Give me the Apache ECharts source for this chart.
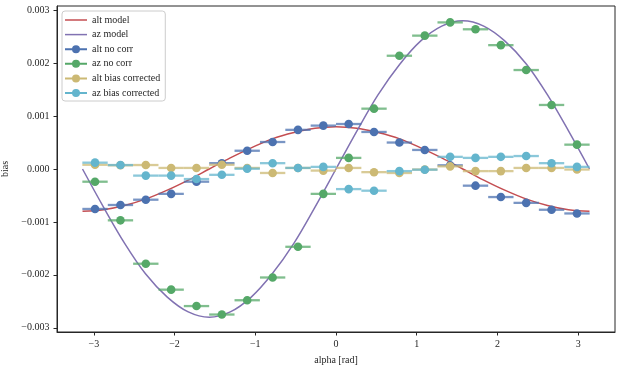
<!DOCTYPE html>
<html>
<head>
<meta charset="utf-8">
<script src="https://cdn.jsdelivr.net/npm/echarts@6/dist/echarts.min.js"></script>
<style>html,body{margin:0;padding:0;background:#fff}#c{width:622px;height:370px}</style>
</head>
<body>
<div id="c"></div>
<script>
// ---- data ----
const alphaCenters = [-2.985, -2.670, -2.356, -2.042, -1.728, -1.414, -1.100, -0.785, -0.471, -0.157,
                       0.157, 0.471, 0.785, 1.100, 1.414, 1.728, 2.042, 2.356, 2.670, 2.985];
const alphaHalfBin = 0.157;
const altNoCorr = [-0.000755, -0.00068, -0.00058, -0.00047, -0.00024, 0.00011, 0.000345, 0.00051, 0.00074, 0.00082,
                   0.00085, 0.0007, 0.0005, 0.00036, 0.00007, -0.000315, -0.00053, -0.00064, -0.00077, -0.00084];
const azNoCorr = [-0.00024, -0.00097, -0.00179, -0.00228, -0.00259, -0.00275, -0.00248, -0.00205, -0.00147, -0.00047,
                  0.00021, 0.00114, 0.00214, 0.00252, 0.00277, 0.00264, 0.00234, 0.00187, 0.00121, 0.00046];
const altCorrected = [0.00008, 0.00007, 0.000075, 0.00002, 0.00002, 0.00008, 0.00002, -0.000075, 0.00002, -0.00003,
                      0.00002, -0.00006, -0.000075, -0.00001, 0.00005, -0.00004, -0.00004, 0.00002, 0.00002, -0.00001];
const azCorrected = [0.00012, 0.000075, -0.000125, -0.000125, -0.00019, -0.00011, 0.000005, 0.00011, 0.00002, 0.00004,
                     -0.00038, -0.00041, -0.00004, -0.000013, 0.00023, 0.00021, 0.00023, 0.000245, 0.00011, 0.00004];

const modelAlpha = [-3.14, -2.88, -2.62, -2.36, -2.09, -1.83, -1.57, -1.31, -1.05, -0.79, -0.52, -0.26, 0,
                    0.26, 0.52, 0.79, 1.05, 1.31, 1.57, 1.83, 2.09, 2.36, 2.62, 2.88, 3.14];
const altModel = [-0.0008, -0.00077, -0.00069, -0.00057, -0.0004, -0.00021, 0, 0.00021, 0.0004, 0.00057, 0.00069, 0.00077, 0.0008,
                  0.00077, 0.00069, 0.00057, 0.0004, 0.00021, 0, -0.00021, -0.0004, -0.00057, -0.00069, -0.00077, -0.0008];
const azModel = [0, -0.00072, -0.0014, -0.00198, -0.00242, -0.0027, -0.0028, -0.0027, -0.00242, -0.00198, -0.0014, -0.00072, 0,
                 0.00072, 0.0014, 0.00198, 0.00242, 0.0027, 0.0028, 0.0027, 0.00242, 0.00198, 0.0014, 0.00072, 0];

const xTicks = [-3, -2, -1, 0, 1, 2, 3];
const yTicks = [-0.003, -0.002, -0.001, 0, 0.001, 0.002, 0.003];

// ---- styling ----
const FONT = 'Liberation Serif';
const INK = '#262626';
const C = {altModel:'#C44E52', azModel:'#8172B2', altNo:'#4C72B0', azNo:'#55A868', altCor:'#CCB974', azCor:'#64B5CD'};

function pairs(xs, ys){ return xs.map((x,i)=>[x, ys[i]]); }
function ebData(ys){ return alphaCenters.map((x,i)=>[x, ys[i], alphaHalfBin]); }

function ebSeries(name, ys, color){
  return {
    name, type:'custom', data: ebData(ys), itemStyle:{color},
    encode:{x:0, y:1},
    renderItem(params, api){
      const x = api.value(0), y = api.value(1), e = api.value(2);
      const p1 = api.coord([x-e, y]), p2 = api.coord([x+e, y]), c = api.coord([x, y]);
      return {type:'group', children:[
        {type:'line', shape:{x1:p1[0], y1:p1[1], x2:p2[0], y2:p2[1]}, style:{stroke:color, lineWidth:2.3, opacity:0.75}},
        {type:'circle', shape:{cx:c[0], cy:c[1], r:4.3}, style:{fill:color}}
      ]};
    }
  };
}
function lineSeries(name, ys, color){
  return {name, type:'line', data: pairs(modelAlpha, ys), symbol:'none', smooth:0.35,
          lineStyle:{color, width:1.5}, itemStyle:{color}, z:1};
}
const fmt = v => (v < 0 ? '\u2212' : '') + Math.abs(v).toFixed(3);
const fmtX = v => (v < 0 ? '\u2212' : '') + Math.abs(v);

const lineIcon = 'path://M0,0 L22,0 L22,1.5 L0,1.5 Z';
const ebIcon = 'path://M0,3 L22,3 L22,5 L0,5 Z M7,4 A4,4 0 1,1 15,4 A4,4 0 1,1 7,4 Z';

const chart = echarts.init(document.getElementById('c'), null, {renderer:'canvas'});
chart.setOption({
  animation:false,
  textStyle:{fontFamily:FONT, color:INK},
  grid:{left:57, right:7, top:6, bottom:38, show:true, borderColor:INK, borderWidth:1, backgroundColor:'transparent',
        containLabel:false, outerBoundsMode:'none'},
  legend:{
    orient:'vertical', left:62, top:11, itemWidth:22, itemHeight:10, itemGap:4.6,
    padding:[4,5,3,3], backgroundColor:'rgba(255,255,255,0.8)', borderColor:'#cccccc', borderWidth:1, borderRadius:3,
    textStyle:{fontFamily:FONT, fontSize:10, color:INK, lineHeight:10}, itemStyle:{borderWidth:0},
    data:[
      {name:'alt model', icon:lineIcon}, {name:'az model', icon:lineIcon},
      {name:'alt no corr', icon:ebIcon}, {name:'az no corr', icon:ebIcon},
      {name:'alt bias corrected', icon:ebIcon}, {name:'az bias corrected', icon:ebIcon}
    ]
  },
  xAxis:{
    type:'value', min:-3.456, max:3.456,
    name:'alpha [rad]', nameLocation:'middle', nameGap:23,
    nameTextStyle:{fontFamily:FONT, fontSize:10, color:INK},
    axisLine:{show:true, onZero:false, lineStyle:{color:INK, width:1}},
    axisTick:{show:true, inside:false, length:3.5, lineStyle:{color:INK}, customValues:xTicks},
    axisLabel:{fontFamily:FONT, fontSize:10, color:INK, margin:7.5, formatter:fmtX, customValues:xTicks},
    splitLine:{show:false}
  },
  yAxis:{
    type:'value', min:-0.00308, max:0.00308,
    name:'bias', nameLocation:'middle', nameGap:37,
    nameTextStyle:{fontFamily:FONT, fontSize:10, color:INK},
    axisLine:{show:true, onZero:false, lineStyle:{color:INK, width:1}},
    axisTick:{show:true, inside:false, length:3.5, lineStyle:{color:INK}, customValues:yTicks},
    axisLabel:{fontFamily:FONT, fontSize:10, color:INK, margin:7.5, formatter:fmt, customValues:yTicks},
    splitLine:{show:false}
  },
  series:[
    lineSeries('alt model', altModel, C.altModel),
    lineSeries('az model', azModel, C.azModel),
    ebSeries('alt no corr', altNoCorr, C.altNo),
    ebSeries('az no corr', azNoCorr, C.azNo),
    ebSeries('alt bias corrected', altCorrected, C.altCor),
    ebSeries('az bias corrected', azCorrected, C.azCor)
  ]
});
</script>
</body>
</html>
